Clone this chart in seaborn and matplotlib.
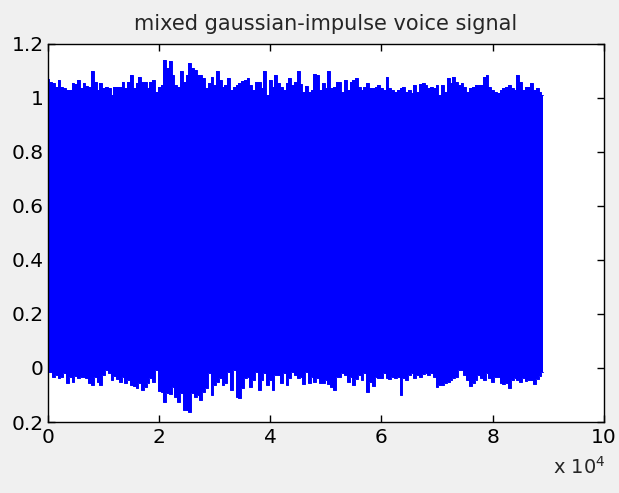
import numpy as np
import pandas as pd
import seaborn as sns
import matplotlib
matplotlib.use("Agg")
import matplotlib.pyplot as plt

# signal envelope, one value every 500 samples (0 .. 89000)
step = 500
upper_env = [
    1.070, 1.060, 1.055, 1.040, 1.065, 1.040, 1.035, 1.030, 1.030, 1.054,
    1.050, 1.065, 1.036, 1.054, 1.045, 1.040, 1.098, 1.060, 1.030, 1.054,
    1.036, 1.040, 1.035, 1.011, 1.040, 1.042, 1.042, 1.060, 1.036, 1.060,
    1.085, 1.036, 1.054, 1.079, 1.060, 1.060, 1.036, 1.060, 1.065, 1.023,
    1.042, 1.046, 1.141, 1.110, 1.135, 1.085, 1.046, 1.042, 1.098, 1.060,
    1.085, 1.128, 1.110, 1.104, 1.085, 1.085, 1.073, 1.036, 1.054, 1.079,
    1.046, 1.098, 1.067, 1.042, 1.046, 1.073, 1.030, 1.042, 1.046, 1.054,
    1.062, 1.067, 1.073, 1.046, 1.030, 1.060, 1.060, 1.036, 1.098, 1.011,
    1.067, 1.042, 1.085, 1.054, 1.042, 1.030, 1.054, 1.073, 1.046, 1.060,
    1.098, 1.050, 1.023, 1.045, 1.023, 1.030, 1.090, 1.085, 1.030, 1.054,
    1.036, 1.098, 1.036, 1.040, 1.060, 1.060, 1.023, 1.067, 1.030, 1.060,
    1.067, 1.073, 1.042, 1.030, 1.042, 1.054, 1.036, 1.036, 1.042, 1.046,
    1.036, 1.030, 1.079, 1.036, 1.030, 1.023, 1.030, 1.036, 1.042, 1.023,
    1.030, 1.017, 1.046, 1.023, 1.050, 1.054, 1.046, 1.036, 1.040, 1.036,
    1.046, 1.011, 1.046, 1.023, 1.073, 1.054, 1.079, 1.060, 1.046, 1.054,
    1.040, 1.023, 1.036, 1.042, 1.046, 1.046, 1.046, 1.079, 1.085, 1.042,
    1.030, 1.023, 1.017, 1.030, 1.036, 1.042, 1.046, 1.036, 1.030, 1.085,
    1.060, 1.030, 1.042, 1.040, 1.054, 1.030, 1.036, 1.023, 1.011,
]
lower_env = [
    -0.014, -0.014, -0.032, -0.026, -0.038, -0.032, -0.020, -0.057, -0.032, -0.051,
    -0.030, -0.038, -0.032, -0.032, -0.038, -0.054, -0.063, -0.032, -0.051, -0.063,
    -0.026, -0.007, -0.020, -0.044, -0.030, -0.042, -0.051, -0.032, -0.057, -0.044,
    -0.063, -0.067, -0.075, -0.054, -0.081, -0.072, -0.057, -0.038, -0.051, -0.007,
    -0.084, -0.088, -0.125, -0.094, -0.095, -0.069, -0.106, -0.125, -0.094, -0.156,
    -0.156, -0.162, -0.094, -0.106, -0.100, -0.118, -0.088, -0.075, -0.020, -0.100,
    -0.063, -0.051, -0.038, -0.063, -0.057, -0.014, -0.081, -0.007, -0.106, -0.112,
    -0.075, -0.038, -0.032, -0.069, -0.044, -0.014, -0.081, -0.044, -0.020, -0.063,
    -0.044, -0.081, -0.026, -0.026, -0.057, -0.020, -0.063, -0.038, -0.014, -0.026,
    -0.038, -0.032, -0.060, -0.014, -0.057, -0.032, -0.051, -0.038, -0.054, -0.057,
    -0.044, -0.059, -0.069, -0.081, -0.032, -0.032, -0.020, -0.026, -0.051, -0.032,
    -0.063, -0.042, -0.026, -0.044, -0.020, -0.088, -0.051, -0.067, -0.032, -0.038,
    -0.038, -0.020, -0.038, -0.042, -0.032, -0.038, -0.032, -0.100, -0.038, -0.044,
    -0.026, -0.020, -0.038, -0.026, -0.032, -0.022, -0.017, -0.026, -0.020, -0.032,
    -0.069, -0.063, -0.063, -0.057, -0.051, -0.044, -0.038, -0.032, -0.007, -0.007,
    -0.026, -0.044, -0.067, -0.057, -0.044, -0.026, -0.038, -0.044, -0.020, -0.038,
    -0.051, -0.032, -0.032, -0.054, -0.059, -0.057, -0.075, -0.044, -0.038, -0.044,
    -0.051, -0.038, -0.047, -0.044, -0.044, -0.059, -0.042, -0.030, -0.014,
]
x_ticks = [0, 20000, 40000, 60000, 80000, 100000]
x_tick_labels = ["0", "2", "4", "6", "8", "10"]
y_ticks = [-0.2, 0, 0.2, 0.4, 0.6, 0.8, 1.0, 1.2]
y_tick_labels = ["0.2", "0", "0.2", "0.4", "0.6", "0.8", "1", "1.2"]

df = pd.DataFrame({
    "sample": np.arange(len(upper_env)) * step,
    "upper": upper_env,
    "lower": lower_env,
})

sns.set_style("ticks")
plt.rcParams["font.family"] = ["DejaVu Sans"]

fig = plt.figure(figsize=(6.19, 4.93), dpi=100, facecolor="#f0f0f0")
ax = fig.add_axes([0.0775, 0.144, 0.898, 0.767])
ax.set_facecolor("white")

ax.fill_between(df["sample"], df["lower"], df["upper"], step="mid",
                color="#0000ff", linewidth=0)
sns.lineplot(data=df, x="sample", y="upper", ax=ax, color="#0000ff",
             linewidth=0.7, drawstyle="steps-mid", estimator=None)
sns.lineplot(data=df, x="sample", y="lower", ax=ax, color="#0000ff",
             linewidth=0.7, drawstyle="steps-mid", estimator=None)

ax.set_xlim(0, 100000)
ax.set_ylim(-0.2, 1.2)
ax.set_xticks(x_ticks)
ax.set_xticklabels(x_tick_labels)
ax.set_yticks(y_ticks)
ax.set_yticklabels(y_tick_labels)
ax.set_xlabel("")
ax.set_ylabel("")
ax.tick_params(direction="in", length=5, width=1, top=True, right=True,
               labelsize=14.5, colors="black")
ax.tick_params(axis="y", pad=3)
ax.tick_params(axis="x", pad=4)
for s in ax.spines.values():
    s.set_visible(True)
    s.set_color("black")
    s.set_linewidth(1)

ax.set_title("mixed gaussian-impulse voice signal", fontsize=15, pad=10)
fig.text(0.978, 0.03, r"x 10$^{4}$", ha="right", va="bottom", fontsize=14)

fig.savefig("out.png", dpi=100, facecolor=fig.get_facecolor())
